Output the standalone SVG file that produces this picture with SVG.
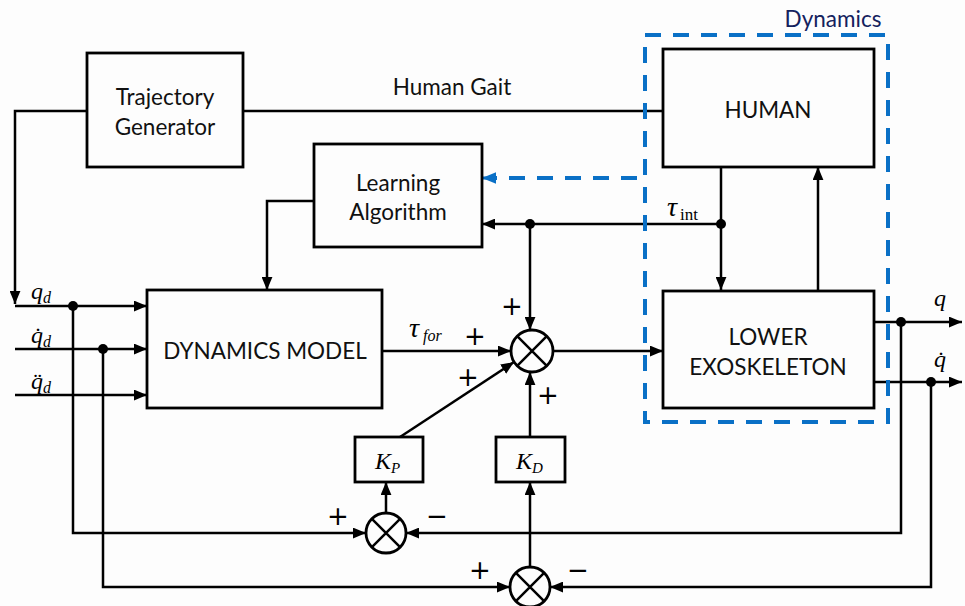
<svg xmlns="http://www.w3.org/2000/svg" width="965" height="606" viewBox="0 0 965 606">
<defs>
<style>
.box{fill:none;stroke:#000;stroke-width:2.8}
.ln{fill:none;stroke:#000;stroke-width:2.5}
.arr{marker-end:url(#ah)}
.dash{fill:none;stroke:#0A70C6;stroke-width:4;stroke-dasharray:16 12}
.lbl{font-family:Lato,"Liberation Sans",sans-serif;font-size:22.5px;fill:#111;text-anchor:middle}
.m{font-family:"Liberation Serif","DejaVu Serif",serif;font-style:italic;fill:#000}
.sign{font-family:"DejaVu Sans","Liberation Sans",sans-serif;font-size:26px;fill:#000;text-anchor:middle}
.dot{fill:#000}
</style>
<marker id="ah" viewBox="0 0 12 10" refX="12" refY="5" markerWidth="13" markerHeight="11" orient="auto" markerUnits="userSpaceOnUse"><path d="M0,0 L12,5 L0,10 z" fill="#000"/></marker>
<marker id="ahb" viewBox="0 0 12 10" refX="12" refY="5" markerWidth="14" markerHeight="12" orient="auto" markerUnits="userSpaceOnUse"><path d="M0,0 L12,5 L0,10 z" fill="#0A70C6"/></marker>
</defs>
<rect width="965" height="606" fill="#fdfdfd"/>

<g id="connectors">
<polyline class="ln arr" points="87,111 15,111 15,304"/>
<line class="ln" x1="243" y1="111" x2="663" y2="111"/>
<line class="ln arr" x1="15" y1="306" x2="147" y2="306"/>
<line class="ln arr" x1="15" y1="349" x2="147" y2="349"/>
<line class="ln arr" x1="15" y1="395" x2="147" y2="395"/>
<polyline class="ln arr" points="73,306 73,533 366,533"/>
<polyline class="ln arr" points="103,349 103,587 510,587"/>
<polyline class="ln arr" points="314,201 267,201 267,290"/>
<line class="ln arr" x1="382" y1="351" x2="511" y2="351"/>
<line class="ln arr" x1="553" y1="351" x2="663" y2="351"/>
<line class="ln arr" x1="721" y1="224" x2="482" y2="224"/>
<line class="ln arr" x1="530" y1="224" x2="530" y2="330"/>
<line class="ln arr" x1="721" y1="167" x2="721" y2="290"/>
<line class="ln arr" x1="818" y1="290" x2="818" y2="167"/>
<line class="ln arr" x1="400" y1="437" x2="514" y2="362"/>
<line class="ln arr" x1="530" y1="437" x2="530" y2="372"/>
<line class="ln arr" x1="386" y1="513" x2="386" y2="482"/>
<line class="ln arr" x1="530" y1="567" x2="530" y2="482"/>
<line class="ln arr" x1="874" y1="322" x2="962" y2="322"/>
<line class="ln arr" x1="874" y1="382" x2="962" y2="382"/>
<polyline class="ln arr" points="901,322 901,533 406,533"/>
<polyline class="ln arr" points="931,382 931,587 550,587"/>
<line class="dash" x1="637" y1="178" x2="496" y2="178"/>
<line x1="497" y1="178" x2="482" y2="178" stroke="#0A70C6" stroke-width="3" marker-end="url(#ahb)"/>
<circle class="dot" cx="73" cy="306" r="5"/>
<circle class="dot" cx="103" cy="349" r="5"/>
<circle class="dot" cx="530" cy="224" r="5"/>
<circle class="dot" cx="721" cy="224" r="5"/>
<circle class="dot" cx="901" cy="322" r="5"/>
<circle class="dot" cx="931" cy="382" r="5"/>
</g>

<g id="dynamics-group">
<rect class="dash" x="645" y="35" width="243" height="387"/>
<text x="833" y="27" font-family="Lato,'Liberation Sans',sans-serif" font-size="22.5" fill="#14225E" text-anchor="middle">Dynamics</text>
</g>

<g id="trajectory-generator">
<rect class="box" x="87" y="53" width="156" height="114"/>
<text class="lbl" x="165" y="105">Trajectory</text>
<text class="lbl" x="165" y="135">Generator</text>
</g>
<text class="lbl" x="452" y="95">Human Gait</text>

<g id="learning-algorithm">
<rect class="box" x="314" y="144" width="168" height="103"/>
<text class="lbl" x="398" y="191">Learning</text>
<text class="lbl" x="398" y="220">Algorithm</text>
</g>

<g id="human">
<rect class="box" x="663" y="49" width="211" height="118"/>
<text class="lbl" x="768" y="118">HUMAN</text>
</g>

<g id="lower-exoskeleton">
<rect class="box" x="663" y="291" width="211" height="117"/>
<text class="lbl" x="768" y="345">LOWER</text>
<text class="lbl" x="768" y="375">EXOSKELETON</text>
</g>

<g id="dynamics-model">
<rect class="box" x="147" y="290" width="235" height="118"/>
<text class="lbl" x="265" y="359">DYNAMICS MODEL</text>
</g>

<g id="sum-main">
<circle class="box" cx="532" cy="351" r="21"/>
<path class="ln" d="M517.2,336.2 L546.8,365.8 M546.8,336.2 L517.2,365.8"/>
</g>
<g id="sum-p">
<circle class="box" cx="386" cy="533" r="20"/>
<path class="ln" d="M371.9,518.9 L400.1,547.1 M400.1,518.9 L371.9,547.1"/>
</g>
<g id="sum-d">
<circle class="box" cx="530" cy="587" r="20"/>
<path class="ln" d="M515.9,572.9 L544.1,601.1 M544.1,572.9 L515.9,601.1"/>
</g>

<g id="kp">
<rect class="box" x="355" y="437" width="68" height="45"/>
<text class="m" x="375" y="469" font-size="24">K<tspan font-size="15" dy="4">P</tspan></text>
</g>
<g id="kd">
<rect class="box" x="496" y="437" width="69" height="45"/>
<text class="m" x="516" y="469" font-size="24">K<tspan font-size="15" dy="4">D</tspan></text>
</g>

<g id="labels">
<text class="m" x="31" y="299" font-size="24">q<tspan font-size="16" dy="4">d</tspan></text>
<text class="m" x="31" y="343" font-size="24">q̇<tspan font-size="16" dy="4">d</tspan></text>
<text class="m" x="31" y="389" font-size="24">q̈<tspan font-size="16" dy="4">d</tspan></text>
<text class="m" x="409" y="337" font-size="28">τ<tspan font-size="16" dx="4" dy="4">for</tspan></text>
<text class="m" x="667" y="216" font-size="28">τ<tspan font-size="17" font-style="normal" dx="3" dy="4">int</tspan></text>
<text class="m" x="934" y="306" font-size="24">q</text>
<text class="m" x="934" y="367" font-size="24">q̇</text>
<text class="sign" x="475" y="345">+</text>
<text class="sign" x="512" y="315">+</text>
<text class="sign" x="468" y="386">+</text>
<text class="sign" x="548" y="404">+</text>
<text class="sign" x="338" y="525">+</text>
<text class="sign" x="437" y="525">−</text>
<text class="sign" x="480" y="579">+</text>
<text class="sign" x="578" y="579">−</text>
</g>
</svg>
